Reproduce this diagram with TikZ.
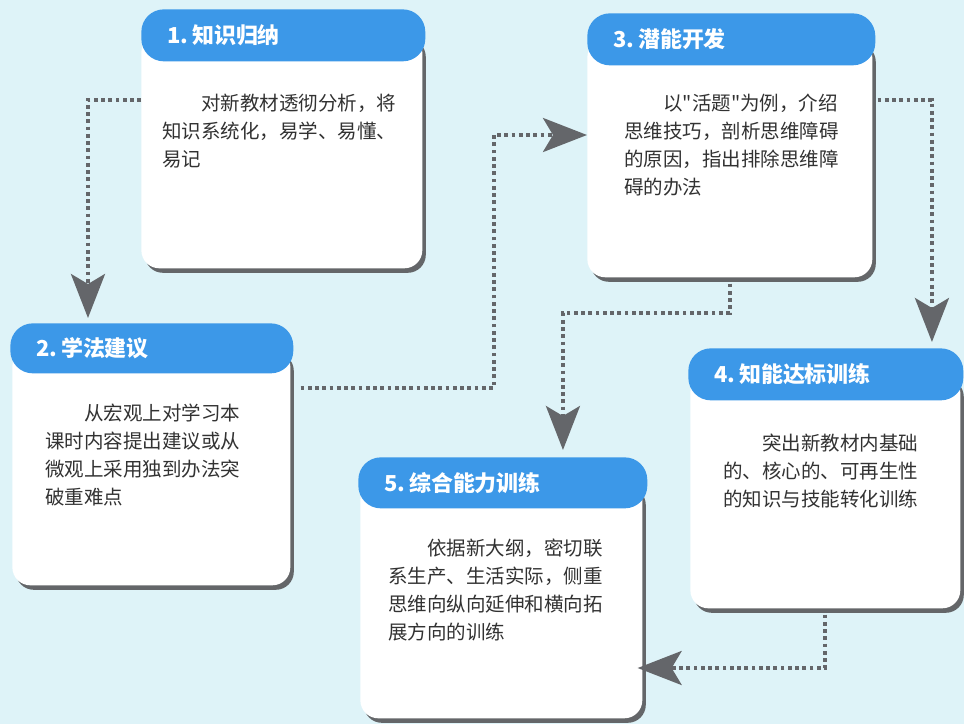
\documentclass[tikz,border=0pt]{standalone}
\usepackage{fontspec}
\usepackage{tikz}
\usetikzlibrary{arrows.meta,shadows}
\newfontfamily\cjk{Noto Sans CJK SC}
\definecolor{bgcyan}{RGB}{222,243,248}
\definecolor{headblue}{RGB}{60,152,232}
\definecolor{shadowgray}{RGB}{100,102,105}
\definecolor{textgray}{RGB}{50,50,50}
\definecolor{dotgray}{RGB}{100,102,106}

\begin{document}
\begin{tikzpicture}[x=0.02cm,y=-0.02cm]
  \tikzstyle{body}=[rectangle,anchor=north west,fill=white,rounded corners=0.36cm,drop shadow={shadow xshift=0.07cm,shadow yshift=-0.09cm,fill=shadowgray,opacity=1}]
  \tikzstyle{head}=[rectangle,anchor=north west,fill=headblue,rounded corners=0.45cm,text=white,align=left,inner xsep=0.52cm,font=\cjk\bfseries\fontsize{12.5pt}{14pt}\selectfont]
  \tikzstyle{txt}=[anchor=north west,inner sep=0pt,align=left,text=textgray,font=\cjk\fontsize{11.1pt}{15.9pt}\selectfont]
  \tikzstyle{flow}=[draw=dotgray,line width=0.075cm,dash pattern=on 0.075cm off 0.07cm,-{Stealth[length=0.88cm,width=0.68cm,inset=0.2cm]}]
  \fill [bgcyan] (0,0) rectangle (964,724);
  \node [body,minimum width=5.62cm,minimum height=4.68cm] (b1) at (141,34) {};
  \node [head,text width=4.64cm,minimum height=1.04cm] (h1) at (141,9) {1.\,知识归纳};
  \node [txt] (t1) at (162,94) {\hspace*{2em}对新教材透彻分析，将\\知识系统化，易学、易懂、\\易记};
  \node [body,minimum width=5.56cm,minimum height=4.74cm] (b2) at (12,348) {};
  \node [head,text width=4.62cm,minimum height=1.0cm] (h2) at (10,323) {2.\,学法建议};
  \node [txt] (t2) at (45,404) {\hspace*{2em}从宏观上对学习本\\课时内容提出建议或从\\微观上采用独到办法突\\破重难点};
  \node [body,minimum width=5.70cm,minimum height=4.76cm] (b3) at (587,39) {};
  \node [head,text width=4.72cm,minimum height=1.04cm] (h3) at (587,13) {3.\,潜能开发};
  \node [txt] (t3) at (624,94) {\hspace*{2em}以"活题"为例，介绍\\思维技巧，剖析思维障碍\\的原因，指出排除思维障\\碍的办法};
  \node [body,minimum width=5.40cm,minimum height=4.68cm] (b4) at (690,374) {};
  \node [head,text width=4.46cm,minimum height=1.04cm] (h4) at (688,348) {4.\,知能达标训练};
  \node [txt] (t4) at (723,434) {\hspace*{2em}突出新教材内基础\\的、核心的、可再生性\\的知识与技能转化训练};
  \node [body,minimum width=5.64cm,minimum height=4.72cm] (b5) at (360,482) {};
  \node [head,text width=4.74cm,minimum height=1.02cm] (h5) at (358,457) {5.\,综合能力训练};
  \node [txt] (t5) at (388,539) {\hspace*{2em}依据新大纲，密切联\\系生产、生活实际，侧重\\思维向纵向延伸和横向拓\\展方向的训练};
  \draw [flow,shorten >=0.1cm] (b1.west |- 0,100) -| ([xshift=1.56cm]h2.north west);
  \draw [flow,shorten <=0.2cm] (b2.east |- 0,388) -- ++(203,0) |- (b3.west |- 0,135);
  \draw [flow,shorten <=0.1cm,shorten >=0.12cm] (b3.east |- 0,100) -| ([xshift=4.88cm]h4.north west);
  \draw [flow,shorten <=0.12cm,shorten >=0.14cm] (b3.south) -- ++(0,35) -| ([xshift=4.1cm]h5.north west);
  \draw [flow,shorten <=0.12cm,shorten >=-0.1cm] (b4.south) |- (b5.east |- 0,668);
\end{tikzpicture}
\end{document}
